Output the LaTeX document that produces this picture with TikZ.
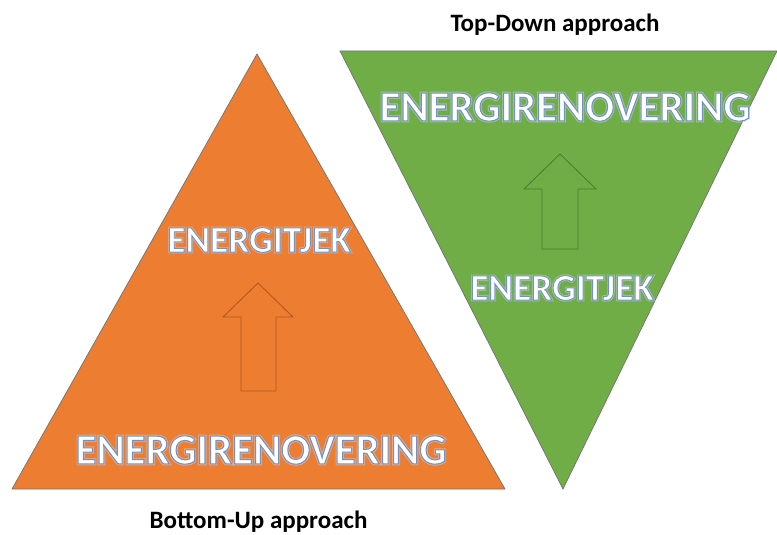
\documentclass[tikz,border=0pt]{standalone}
\usepackage{fontspec}
\setmainfont{Carlito}
\newfontfamily\outlinefont[UprightFont=* Bold, FakeBold=2.5]{Carlito}
\newfontfamily\glowfont[UprightFont=* Bold, FakeBold=7]{Carlito}
\definecolor{orangefill}{HTML}{ED7D31}
\definecolor{greenfill}{HTML}{70AD47}
\definecolor{orangeline}{HTML}{A9561C}
\definecolor{greenline}{HTML}{4A7A2E}
\definecolor{glowc}{HTML}{C9DAF0}
\newcommand{\outlined}[1]{\special{pdf:literal direct 0.45 0.57 0.76 RG}#1}
\tikzset{
  tri/.style={line width=0.7pt, draw=black!55, line join=miter},
  blockarrow/.style={line width=0.8pt, line join=miter},
  caption/.style={font=\bfseries\fontsize{25}{29}\selectfont, text=black, inner sep=0pt, anchor=base},
  bigword/.style={font=\outlinefont\fontsize{42.8}{50}\selectfont, text=white, inner sep=0pt},
  midword/.style={font=\outlinefont\fontsize{37.3}{42}\selectfont, text=white, inner sep=0pt},
  bigglow/.style={font=\glowfont\fontsize{42.8}{50}\selectfont, text=glowc, text opacity=0.5, inner sep=0pt},
  midglow/.style={font=\glowfont\fontsize{37.3}{42}\selectfont, text=glowc, text opacity=0.5, inner sep=0pt}
}
\begin{document}
\begin{tikzpicture}[x=1pt,y=-1pt]
\useasboundingbox (0,0) rectangle (777,535);
% triangles
\draw[tri, fill=orangefill] (257,54) -- (505,489) -- (12,489) -- cycle;
\draw[tri, fill=greenfill] (340,51) -- (777,51) -- (563,489) -- cycle;
% block arrows
\draw[blockarrow, draw=orangeline] (258,283) -- (293,317) -- (276,317) -- (276,391) -- (241,391) -- (241,317) -- (223,317) -- cycle;
\draw[blockarrow, draw=greenline] (560,154) -- (596,189) -- (578,189) -- (578,249) -- (542,249) -- (542,189) -- (524,189) -- cycle;
% word positions
\coordinate (p1) at (259,240);
\coordinate (p2) at (261,450);
\coordinate (p3) at (565,107);
\coordinate (p4) at (562,288);
% glow
\node[midglow] (otjg) at (p1) {ENERGITJEK};
\node[bigglow] (oreng) at (p2) {ENERGIRENOVERING};
\node[bigglow] (greng) at (p3) {ENERGIRENOVERING};
\node[midglow] (gtjg) at (p4) {ENERGITJEK};
% words
\node[midword] (otj) at (p1) {\outlined{ENERGITJEK}};
\node[bigword] (oren) at (p2) {\outlined{ENERGIRENOVERING}};
\node[bigword] (gren) at (p3) {\outlined{ENERGIRENOVERING}};
\node[midword] (gtj) at (p4) {\outlined{ENERGITJEK}};
% captions
\node[caption] (td) at (555,32) {Top-Down approach};
\node[caption] (bu) at (258.5,528) {Bottom-Up approach};
\end{tikzpicture}
\end{document}
